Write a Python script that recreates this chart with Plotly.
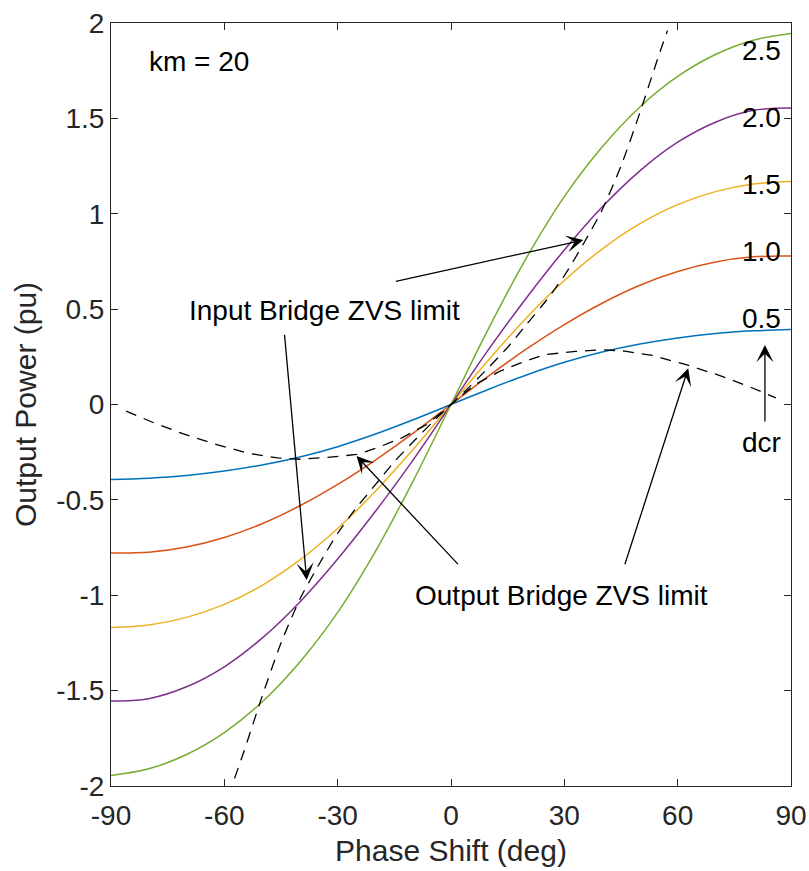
import plotly.graph_objects as go

# ---------------- data ----------------
phase = [-90, -80, -70, -60, -50, -40, -30, -20, -10, 0, 10, 20, 30, 40, 50, 60, 70, 80, 90]

p_dcr05 = [-0.393, -0.386, -0.372, -0.349, -0.317, -0.275, -0.221, -0.155, -0.080, 0.0,
           0.080, 0.155, 0.221, 0.275, 0.317, 0.349, 0.372, 0.386, 0.393]
p_dcr10 = [-0.778, -0.774, -0.747, -0.697, -0.625, -0.531, -0.419, -0.291, -0.150, 0.0,
           0.150, 0.291, 0.419, 0.531, 0.625, 0.697, 0.747, 0.774, 0.778]
p_dcr15 = [-1.169, -1.156, -1.116, -1.048, -0.948, -0.815, -0.650, -0.455, -0.235, 0.0,
           0.235, 0.455, 0.650, 0.815, 0.948, 1.048, 1.116, 1.156, 1.169]
p_dcr20 = [-1.555, -1.542, -1.480, -1.375, -1.225, -1.035, -0.810, -0.560, -0.290, 0.0,
           0.290, 0.560, 0.810, 1.035, 1.225, 1.375, 1.480, 1.542, 1.555]
p_dcr25 = [-1.945, -1.910, -1.835, -1.720, -1.560, -1.350, -1.090, -0.770, -0.400, 0.0,
           0.400, 0.770, 1.090, 1.350, 1.560, 1.720, 1.835, 1.910, 1.945]

dcr_labels = ["0.5", "1.0", "1.5", "2.0", "2.5"]
dcr_label_y = [0.453, 0.801, 1.151, 1.505, 1.858]
curve_colors = ["#0072BD", "#D95319", "#EDB120", "#7E2F8E", "#77AC30"]

# Input bridge ZVS limit (steep dashed locus)
in_phase = [-57.3, -55, -50, -45, -40, -35, -30, -25, -20, -15, -10, -5, 0,
            5, 10, 15, 20, 25, 30, 35, 40, 45, 50, 55, 57.3]
in_power = [-1.96, -1.83, -1.53, -1.25, -1.02, -0.84, -0.675, -0.54, -0.42, -0.30, -0.195, -0.095, 0.0,
            0.095, 0.195, 0.30, 0.42, 0.54, 0.675, 0.84, 1.02, 1.25, 1.53, 1.83, 1.96]

# Output bridge ZVS limit (humped dashed locus)
out_phase = [-86, -79, -71, -62, -53.3, -46, -40, -33, -25, -19.6, -13, -6.4, 0,
             6.4, 13, 19.6, 25, 33, 40, 46, 53.3, 62, 71, 79, 86]
out_power = [-0.035, -0.093, -0.153, -0.210, -0.257, -0.280, -0.287, -0.278, -0.262, -0.227, -0.175, -0.105, 0.0,
             0.105, 0.175, 0.227, 0.262, 0.278, 0.287, 0.280, 0.257, 0.210, 0.153, 0.093, 0.035]

x_ticks = [-90, -60, -30, 0, 30, 60, 90]
x_ticktext = ["-90", "-60", "-30", "0", "30", "60", "90"]
y_ticks = [-2, -1.5, -1, -0.5, 0, 0.5, 1, 1.5, 2]
y_ticktext = ["-2", "-1.5", "-1", "-0.5", "0", "0.5", "1", "1.5", "2"]

FONT = "Liberation Sans, Arial, Helvetica, sans-serif"
INK = "#262626"

fig = go.Figure()

for vals, col in zip([p_dcr05, p_dcr10, p_dcr15, p_dcr20, p_dcr25], curve_colors):
    fig.add_trace(go.Scatter(x=phase, y=vals, mode="lines",
                             line=dict(color=col, width=1.5, shape="spline", smoothing=1.0),
                             showlegend=False, hoverinfo="skip"))

fig.add_trace(go.Scatter(x=in_phase, y=in_power, mode="lines",
                         line=dict(color="black", width=1.3, dash="11px,8px", shape="spline", smoothing=0.6),
                         showlegend=False, hoverinfo="skip"))
fig.add_trace(go.Scatter(x=out_phase, y=out_power, mode="lines",
                         line=dict(color="black", width=1.3, dash="11px,8px"),
                         showlegend=False, hoverinfo="skip"))

annotations = []
for lab, yv in zip(dcr_labels, dcr_label_y):
    annotations.append(dict(x=82.2, y=yv, xref="x", yref="y", text=lab, showarrow=False,
                            font=dict(family=FONT, size=28, color="black"),
                            xanchor="center", yanchor="middle"))

text_font = dict(family=FONT, size=28, color="black")
annotations += [
    dict(x=-66.7, y=1.80, xref="x", yref="y", text="km = 20", showarrow=False,
         font=text_font, xanchor="center", yanchor="middle"),
    dict(x=-33.6, y=0.495, xref="x", yref="y", text="Input Bridge ZVS limit", showarrow=False,
         font=text_font, xanchor="center", yanchor="middle"),
    dict(x=29.2, y=-1.0, xref="x", yref="y", text="Output Bridge ZVS limit", showarrow=False,
         font=text_font, xanchor="center", yanchor="middle"),
    dict(x=82.2, y=-0.197, xref="x", yref="y", text="dcr", showarrow=False,
         font=text_font, xanchor="center", yanchor="middle"),
]

arrow_common = dict(xref="x", yref="y", axref="x", ayref="y", text="", showarrow=True,
                    arrowhead=3, arrowsize=2.2, arrowwidth=1.3, arrowcolor="black")
arrows = [
    ((35.0, 0.862), (-15.0, 0.644)),
    ((-38.2, -0.92), (-44.1, 0.373)),
    ((-25.0, -0.27), (2.2, -0.845)),
    ((62.8, 0.19), (45.9, -0.845)),
    ((83.1, 0.312), (83.1, -0.097)),
]
for (tx, ty), (ax_, ay_) in arrows:
    a = dict(arrow_common)
    a.update(x=tx, y=ty, ax=ax_, ay=ay_)
    annotations.append(a)

axis_common = dict(showgrid=False, zeroline=False, showline=True, linecolor=INK, linewidth=1,
                   mirror="ticks", ticks="inside", ticklen=7, tickwidth=1, tickcolor=INK,
                   automargin=False,
                   tickfont=dict(family=FONT, size=28, color=INK))

fig.update_layout(
    width=809, height=871,
    margin=dict(l=111, r=18, t=23, b=85),
    paper_bgcolor="white", plot_bgcolor="white",
    xaxis=dict(range=[-90, 90], tickvals=x_ticks, ticktext=x_ticktext, ticklabelstandoff=4,
               title=dict(text="Phase Shift (deg)", font=dict(family=FONT, size=30, color=INK), standoff=10),
               **axis_common),
    yaxis=dict(range=[-2, 2], tickvals=y_ticks, ticktext=y_ticktext,
               title=dict(text="Output Power (pu)", font=dict(family=FONT, size=30, color=INK), standoff=10),
               **axis_common),
    annotations=annotations,
)

fig.write_html("out.html")
